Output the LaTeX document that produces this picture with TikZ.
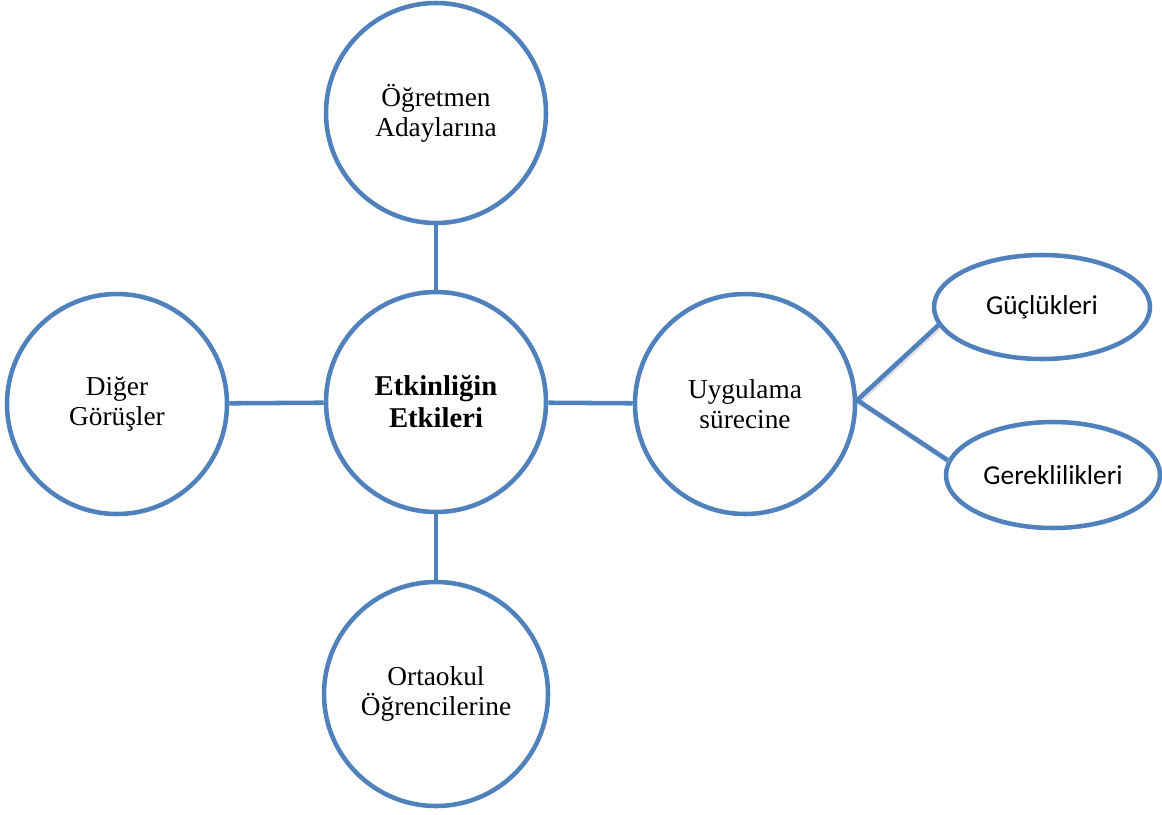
\documentclass[tikz,border=0pt]{standalone}
\usepackage{fontspec}
\setmainfont{Liberation Serif}
\newfontfamily\calibri{Carlito}
\usetikzlibrary{shapes.geometric}
\definecolor{accent}{HTML}{4F81BD}
\begin{document}
\begin{tikzpicture}[x=0.75pt,y=-0.75pt,
  bubble/.style={circle,draw=accent,line width=3.4pt,fill=white,minimum size=165pt,inner sep=0pt,
    align=center,font=\fontsize{20.5}{22.5}\selectfont},
  oval/.style={ellipse,draw=accent,line width=3.4pt,fill=white,inner sep=0pt,
    align=center,font=\calibri\fontsize{20.5}{24}\selectfont},
  conn/.style={draw=accent,line width=3.4pt},
  shconn/.style={conn,preaction={draw,black!30,opacity=0.4,line width=3.4pt,
    transform canvas={shift={(1pt,-1.5pt)}}}}]
\useasboundingbox (0,0) rectangle (1162,814);
\node[bubble] (top) at (436,113) {Öğretmen\\Adaylarına};
\node[bubble,font=\fontsize{21.5}{24}\selectfont\bfseries] (mid) at (436,402) {Etkinliğin\\Etkileri};
\node[bubble] (lft) at (117,404) {Diğer\\Görüşler};
\node[bubble,minimum size=168pt] (bot) at (436,694) {Ortaokul\\Öğrencilerine};
\node[bubble] (ug) at (745,404) {Uygulama\\sürecine};
\node[oval,minimum width=162pt,minimum height=78pt] (gu) at (1042,307) {Güçlükleri};
\node[oval,minimum width=160.5pt,minimum height=79.5pt] (ge) at (1053,475) {Gereklilikleri};
\draw[conn] (mid) -- (top);
\draw[conn] (mid) -- (lft);
\draw[conn] (mid) -- (bot);
\draw[conn] (mid) -- (ug);
\draw[shconn] (ug.2) -- (gu.190);
\draw[shconn] (ug.2) -- (ge.172);
\end{tikzpicture}
\end{document}
